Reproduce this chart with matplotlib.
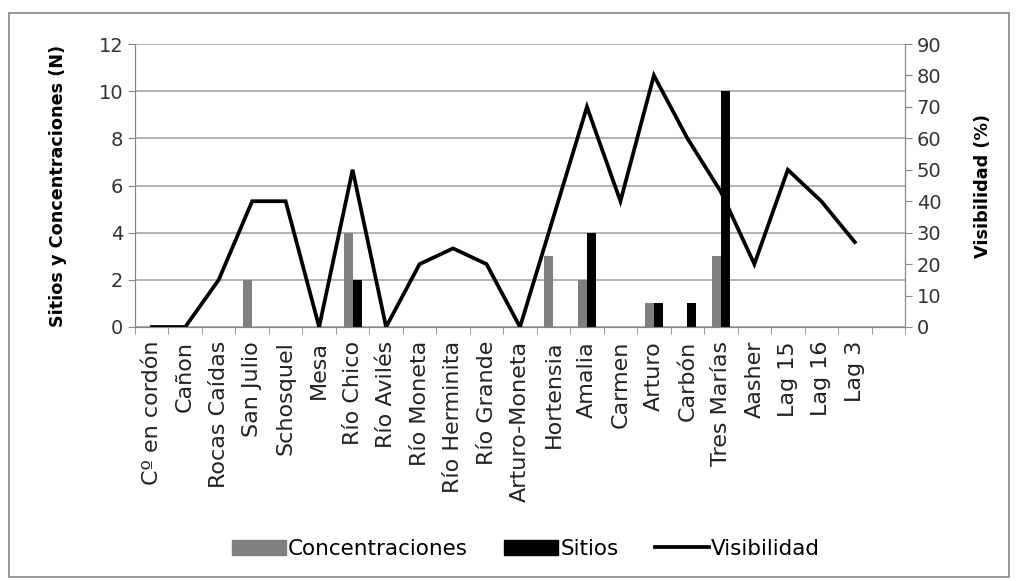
import matplotlib.pyplot as plt
import numpy as np
from matplotlib.patches import Rectangle, Patch
from matplotlib.lines import Line2D

plt.rcParams['font.family'] = ['DejaVu Sans']

categories = ["Cº en cordón", "Cañon", "Rocas Caídas", "San Julio", "Schosquel", "Mesa",
              "Río Chico", "Río Avilés", "Río Moneta", "Río Herminita", "Río Grande",
              "Arturo-Moneta", "Hortensia", "Amalia", "Carmen", "Arturo", "Carbón",
              "Tres Marías", "Aasher", "Lag 15", "Lag 16", "Lag 3", ""]
concentraciones = [0, 0, 0, 2, 0, 0, 4, 0, 0, 0, 0, 0, 3, 2, 0, 1, 0, 3, 0, 0, 0, 0, 0]
sitios = [0, 0, 0, 0, 0, 0, 2, 0, 0, 0, 0, 0, 0, 4, 0, 1, 1, 10, 0, 0, 0, 0, 0]
visibilidad = [0, 0, 15, 40, 40, 0, 50, 0, 20, 25, 20, 0, 35, 70, 40, 80, 60, 43, 20, 50, 40, 27]

fig = plt.figure(figsize=(10.17, 5.81), dpi=100)
ax = fig.add_axes([135 / 1017, 1 - 327 / 581, 770 / 1017, 283 / 581])
ax2 = ax.twinx()

# outer frame
fig.patches.append(Rectangle((9 / 1017, 4 / 581), 1000 / 1017, 564 / 581,
                             transform=fig.transFigure, fill=False,
                             edgecolor="#868686", linewidth=1.2))

x = np.arange(len(categories))
w = 0.27
ax.bar(x - w / 2, concentraciones, width=w, color="#808080", zorder=3)
ax.bar(x + w / 2, sitios, width=w, color="black", zorder=3)

ax2.plot(x[:len(visibilidad)], visibilidad, color="black", linewidth=2.7,
         solid_joinstyle="miter")

ax.set_xlim(-0.5, len(categories) - 0.5)
ax.set_ylim(0, 12)
ax.set_yticks(range(0, 13, 2))
ax2.set_ylim(0, 90)
ax2.set_yticks(range(0, 91, 10))

ax.set_xticks(x)
ax.set_xticklabels(categories, rotation=90, fontsize=16, color="#222222")
ax.set_xticks(np.arange(-0.5, len(categories)), minor=True)
ax.tick_params(axis="x", which="major", length=0, pad=10)
ax.tick_params(axis="x", which="minor", length=5, color="#868686")
ax.tick_params(axis="y", length=5, color="#868686", labelsize=14, labelcolor="#333333")
ax2.tick_params(axis="y", length=5, color="#868686", labelsize=14, labelcolor="#333333")

ax.grid(axis="y", color="#a6a6a6", linewidth=1.2, zorder=0)
ax.set_axisbelow(True)

for a in (ax, ax2):
    a.spines["top"].set_visible(False)
    for s in ("left", "right", "bottom"):
        a.spines[s].set_color("#868686")

ax.set_ylabel("Sitios y Concentraciones (N)", fontsize=12.7, fontweight="bold")
ax2.set_ylabel("Visibilidad (%)", fontsize=12.7, fontweight="bold", rotation=90)
ax.yaxis.set_label_coords(-0.088, 0.5)
ax2.yaxis.set_label_coords(1.090, 0.5)

handles = [Patch(color="#808080"), Patch(color="black"),
           Line2D([], [], color="black", linewidth=2.7)]
fig.legend(handles, ["Concentraciones", "Sitios", "Visibilidad"], loc="center",
           bbox_to_anchor=(526 / 1017, 1 - 549 / 581), ncol=3, frameon=False,
           fontsize=15.5, handlelength=2.5, handletextpad=0.1, columnspacing=1.7)

fig.savefig("out.png", dpi=100)
